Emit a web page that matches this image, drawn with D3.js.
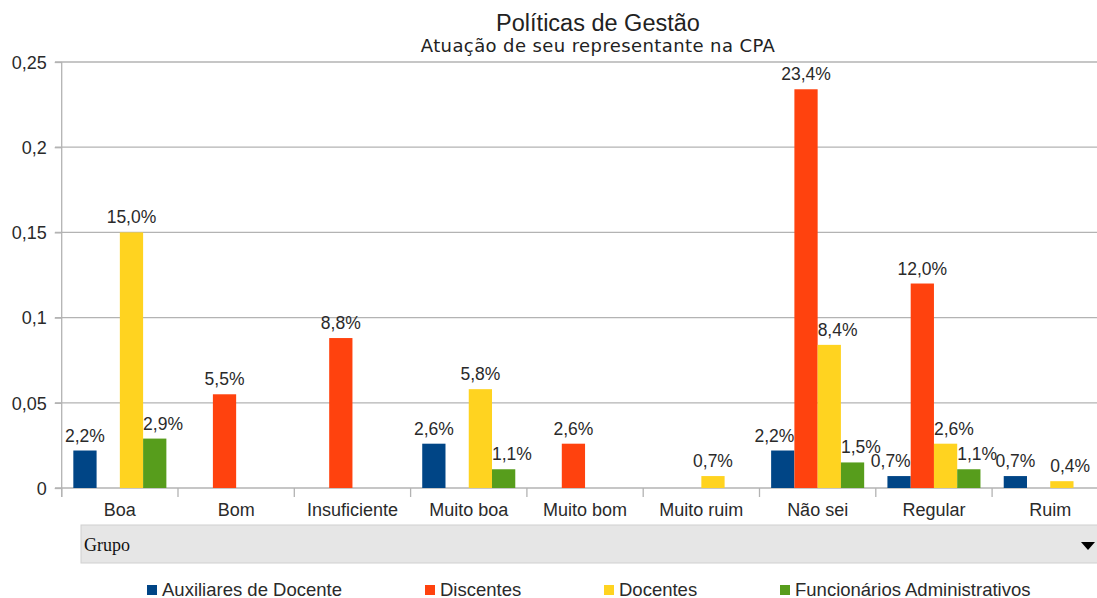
<!DOCTYPE html>
<html><head><meta charset="utf-8">
<script src="https://cdn.jsdelivr.net/npm/d3@7"></script>
<style>body{margin:0;background:#fff;} svg{display:block;font-family:"Liberation Sans",Arial,sans-serif;}</style>
</head><body><svg id="c" width="1097" height="598"></svg>
<script>
const categories = ["Boa","Bom","Insuficiente","Muito boa","Muito bom","Muito ruim","Não sei","Regular","Ruim"];
const seriesNames = ["Auxiliares de Docente","Discentes","Docentes","Funcionários Administrativos"];
const auxiliares = [0.022,null,null,0.026,null,null,0.022,0.007,0.007];
const discentes = [null,0.055,0.088,null,0.026,null,0.234,0.120,null];
const docentes = [0.150,null,null,0.058,null,0.007,0.084,0.026,0.004];
const funcionarios = [0.029,null,null,0.011,null,null,0.015,0.011,null];
const yTicks = [0,0.05,0.1,0.15,0.2,0.25];
const colors = ["#004586","#ff420e","#ffd320","#579d1c"];
const title = "Políticas de Gestão";
const subtitle = "Atuação de seu representante na CPA";

const seriesValues = [auxiliares, discentes, docentes, funcionarios];
const svg = d3.select("#c");
const textColor = "#2a2a2a";
const comma = v => String(v).replace(".", ",");
const pct = v => d3.format(".1f")(v*100).replace(".", ",") + "%";

const x0 = d3.scaleBand().domain(categories).range([61.7, 1108.4]).paddingInner(0.2).paddingOuter(0.1);
const x1 = d3.scaleBand().domain(d3.range(4)).range([0, x0.bandwidth()]);
const y = d3.scaleLinear().domain([0, 0.25]).range([488, 62]);

// gridlines
svg.append("g").selectAll("line").data(yTicks).join("line")
  .attr("x1", 55).attr("x2", 1097).attr("y1", d=>y(d)).attr("y2", d=>y(d))
  .attr("stroke", "#b3b3b3").attr("stroke-width", 1.3);

// y axis
const yAxis = svg.append("g").attr("transform", "translate(61.7,0)")
  .call(d3.axisLeft(y).tickValues(yTicks).tickFormat(comma).tickSize(7).tickPadding(8));
yAxis.select(".domain").attr("d", "M0,62V497").attr("stroke", "#b3b3b3").attr("stroke-width", 1.3);
yAxis.selectAll(".tick line").attr("stroke", "#b3b3b3").attr("stroke-width", 1.3);
yAxis.selectAll(".tick text").attr("font-size", 18).attr("fill", textColor)
  .attr("font-family","Liberation Sans, Arial, sans-serif").attr("dy", "0.35em");

// x axis boundaries
const bounds = categories.map(c => x0(c) - x0.step()*x0.paddingInner()/2);
svg.append("g").selectAll("line").data(bounds).join("line")
  .attr("x1", d=>d).attr("x2", d=>d).attr("y1", 488).attr("y2", 497)
  .attr("stroke", "#b3b3b3").attr("stroke-width", 1.3);
svg.append("g").selectAll("text").data(categories).join("text")
  .attr("x", d => x0(d) + x0.bandwidth()/2).attr("y", 516)
  .attr("text-anchor", "middle").attr("font-size", 18).attr("fill", textColor).text(d=>d);

// bars
const flat = [];
categories.forEach((c, ci) => seriesValues.forEach((s, si) => {
  if (s[ci] != null) flat.push({c, ci, si, v: s[ci]});
}));
svg.append("g").selectAll("rect").data(flat).join("rect")
  .attr("x", d => x0(d.c) + x1(d.si)).attr("width", x1.bandwidth())
  .attr("y", d => y(d.v)).attr("height", d => y(0) - y(d.v))
  .attr("fill", d => colors[d.si]);

// labels (with simple neighbour-avoidance alignment)
function anchor(d) {
  const hasRed = discentes[d.ci] != null;
  if (d.si === 3) return "start";
  if (d.si === 0) return hasRed ? "end" : "middle";
  if (d.si === 2) return (hasRed || auxiliares[d.ci] != null && funcionarios[d.ci] == null) ? "start" : "middle";
  return "middle";
}
svg.append("g").selectAll("text").data(flat).join("text")
  .attr("x", d => {
    const a = anchor(d), bx = x0(d.c) + x1(d.si), w = x1.bandwidth();
    return a === "start" ? bx : a === "end" ? bx + w : bx + w/2;
  })
  .attr("y", d => y(d.v) - 9)
  .attr("text-anchor", anchor)
  .attr("font-size", 17.5).attr("fill", textColor).text(d => pct(d.v));

// title
svg.append("text").attr("x", 598).attr("y", 31).attr("text-anchor", "middle")
  .attr("font-size", 23.5).attr("fill", "#222").text(title);
svg.append("text").attr("x", 598).attr("y", 52).attr("text-anchor", "middle")
  .attr("font-family", "DejaVu Sans, sans-serif")
  .attr("font-size", 18).attr("fill", "#222").attr("letter-spacing", 0.4).text(subtitle);

// Grupo field bar
svg.append("rect").attr("x", 81).attr("y", 525).attr("width", 1030).attr("height", 38)
  .attr("fill", "#e6e6e6").attr("stroke", "#d0d0d0");
svg.append("text").attr("x", 84).attr("y", 551).attr("font-size", 18)
  .attr("font-family", "Liberation Serif, serif").attr("fill", "#111").text("Grupo");
svg.append("path").attr("d", "M1081,542L1095,542L1088,550Z").attr("fill", "#000");

// legend
const legendX = [147, 425, 604, 780];
const lg = svg.append("g").selectAll("g").data(seriesNames).join("g")
  .attr("transform", (d,i) => `translate(${legendX[i]},0)`);
lg.append("rect").attr("x", 0).attr("y", 585).attr("width", 10).attr("height", 10).attr("fill", (d,i)=>colors[i]);
lg.append("text").attr("x", 15).attr("y", 596).attr("font-size", 18.5).attr("fill", textColor).text(d=>d);
</script></body></html>
